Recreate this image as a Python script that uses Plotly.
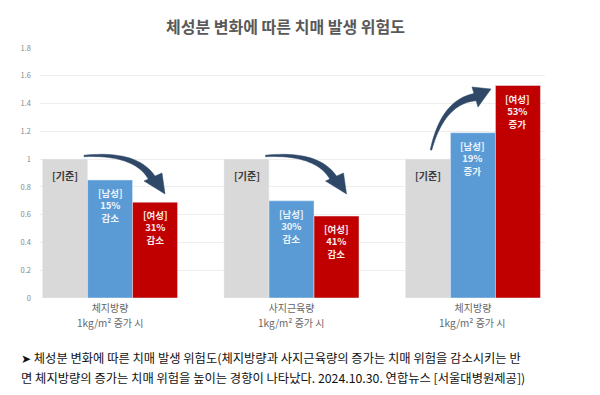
import math
import plotly.graph_objects as go

cat_line1 = ["체지방량", "사지근육량", "체지방량"]
cat_line2 = ["1kg/m² 증가 시", "1kg/m² 증가 시", "1kg/m² 증가 시"]
cat_pos = [0, 1, 2]
baseline = [1.0, 1.0, 1.0]
male = [0.85, 0.70, 1.19]
female = [0.69, 0.59, 1.53]
male_labels = ["[남성]<br>15%<br>감소", "[남성]<br>30%<br>감소", "[남성]<br>19%<br>증가"]
female_labels = ["[여성]<br>31%<br>감소", "[여성]<br>41%<br>감소", "[여성]<br>53%<br>증가"]
base_label = "[기준]"
yticks = [0, 0.2, 0.4, 0.6, 0.8, 1, 1.2, 1.4, 1.6, 1.8]
title = "체성분 변화에 따른 치매 발생 위험도"
caption1 = "➤ 체성분 변화에 따른 치매 발생 위험도(체지방량과 사지근육량의 증가는 치매 위험을 감소시키는 반"
caption2 = "면 체지방량의 증가는 치매 위험을 높이는 경향이 나타났다. 2024.10.30. 연합뉴스 [서울대병원제공])"

FONT = "Noto Sans CJK KR"
W, H = 600, 395
L, R, T, B = 40, 55, 48, 97
XR = [-0.386, 2.397]
YR = [0, 1.8]

def px2x(px):
    return XR[0] + (px - L) / (W - L - R) * (XR[1] - XR[0])

def py2y(py):
    return YR[0] + (H - B - py) / (H - T - B) * (YR[1] - YR[0])

def arrow_paths(p0, c, p2, w0, w1, head):
    n = 24
    left, right = [], []
    for k in range(n + 1):
        t = k / n
        x = (1 - t) ** 2 * p0[0] + 2 * (1 - t) * t * c[0] + t ** 2 * p2[0]
        y = (1 - t) ** 2 * p0[1] + 2 * (1 - t) * t * c[1] + t ** 2 * p2[1]
        dx = 2 * (1 - t) * (c[0] - p0[0]) + 2 * t * (p2[0] - c[0])
        dy = 2 * (1 - t) * (c[1] - p0[1]) + 2 * t * (p2[1] - c[1])
        ln = math.hypot(dx, dy) or 1
        nx, ny = -dy / ln, dx / ln
        w = (w0 + (w1 - w0) * t) / 2
        left.append((x + nx * w, y + ny * w))
        right.append((x - nx * w, y - ny * w))
    pts = left + right[::-1]
    body = "M " + " L ".join(f"{px2x(a)},{py2y(b)}" for a, b in pts) + " Z"
    hd = "M " + " L ".join(f"{px2x(a)},{py2y(b)}" for a, b in head) + " Z"
    return body, hd

fig = go.Figure()
fig.add_bar(x=cat_pos, y=baseline, marker_color="#d9d9d9", name="기준")
fig.add_bar(x=cat_pos, y=male, marker_color="#5b9bd5", name="남성")
fig.add_bar(x=cat_pos, y=female, marker_color="#c00000", name="여성")

bw = (1 - 0.256) / 3
anns = []
for i, c in enumerate(cat_pos):
    anns.append(dict(x=c - bw, y=baseline[i], yanchor="top", yshift=-7, text="<b>" + base_label + "</b>",
                     showarrow=False, font=dict(family=FONT, size=10, color="#3a3a3a")))
    anns.append(dict(x=c, y=male[i], yanchor="top", yshift=-4, text="<b>" + male_labels[i] + "</b>",
                     showarrow=False, font=dict(family=FONT, size=9.5, color="#eef4fb")))
    anns.append(dict(x=c + bw, y=female[i], yanchor="top", yshift=-4, text="<b>" + female_labels[i] + "</b>",
                     showarrow=False, font=dict(family=FONT, size=9.5, color="#fbeaea")))
    anns.append(dict(x=c, xref="x", yref="paper", y=(H - B - 322) / (H - T - B), yanchor="middle",
                     text=cat_line2[i], showarrow=False,
                     font=dict(family=FONT, size=10, color="#666666")))

anns.append(dict(xref="paper", yref="paper", x=(285 - L) / (W - L - R), y=1 + (T - 26) / (H - T - B),
                 text="<b>" + title + "</b>", showarrow=False, xanchor="center", yanchor="middle",
                 font=dict(family=FONT, size=16, color="#595959")))
for cap, py in [(caption1, 358), (caption2, 378)]:
    anns.append(dict(xref="paper", yref="paper", x=(19 - L) / (W - L - R), y=(H - B - py) / (H - T - B),
                     text=cap, showarrow=False, xanchor="left", yanchor="middle",
                     font=dict(family=FONT, size=12.3, color="#111111")))

arrow_col = "#2f4868"
shapes = []
specs = []
for off in [0, 181.5]:
    specs.append(((84 + off, 156), (138 + off, 152), (153 + off, 180),
                  [(144 + off, 181), (162 + off, 173), (165 + off, 194)]))
specs.append(((431, 150), (443, 101), (476, 97), [(472, 87), (478, 107), (491, 89)]))
for p0, cc, p2, head in specs:
    body, hd = arrow_paths(p0, cc, p2, 1.5, 7.5, head)
    for pth in (body, hd):
        shapes.append(dict(type="path", xref="x", yref="y", path=pth, fillcolor=arrow_col,
                           line=dict(color=arrow_col, width=0.5)))

fig.update_layout(
    width=W, height=H,
    margin=dict(l=L, r=R, t=T, b=B),
    paper_bgcolor="white", plot_bgcolor="white",
    barmode="group", bargap=0.256, bargroupgap=0,
    showlegend=False,
    annotations=anns, shapes=shapes,
    xaxis=dict(range=XR, tickvals=cat_pos, ticktext=cat_line1, showgrid=False, zeroline=False,
               showline=False, ticks="", ticklabelstandoff=3,
               tickfont=dict(family=FONT, size=10, color="#666666")),
    yaxis=dict(range=YR, tickvals=yticks, showgrid=True, gridcolor="#eeeeee", gridwidth=1,
               zeroline=False, showline=False, ticks="", ticklabelstandoff=8,
               tickfont=dict(family=FONT, size=7.5, color="#888888")),
)
fig.write_html("out.html", config={"displayModeBar": False},
               post_script="document.body.style.margin='0';")
